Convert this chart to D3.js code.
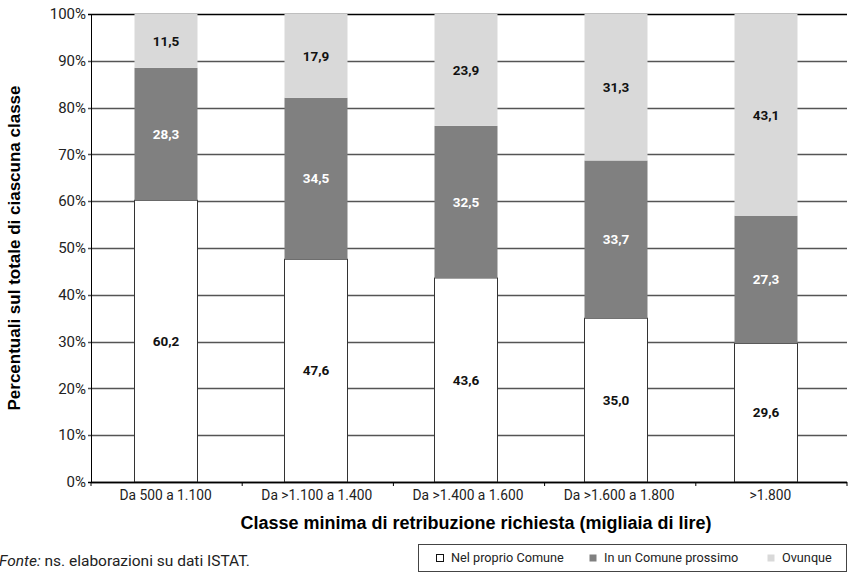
<!DOCTYPE html>
<html>
<head>
<meta charset="utf-8">
<script src="https://cdn.jsdelivr.net/npm/d3@7"></script>
<style>
  body { margin: 0; background: #fff; }
  svg { display: block; }
</style>
</head>
<body>
<svg id="chart"></svg>
<script>
/*=================
=== The data
=================*/
var categories = ['Da 500 a 1.100', 'Da >1.100 a 1.400', 'Da >1.400 a 1.600', 'Da >1.600 a 1.800', '>1.800'];
var seriesNames = ['Nel proprio Comune', 'In un Comune prossimo', 'Ovunque'];
var nelComune = [60.2, 47.6, 43.6, 35.0, 29.6];
var comunePross = [28.3, 34.5, 32.5, 33.7, 27.3];
var ovunque = [11.5, 17.9, 23.9, 31.3, 43.1];
var yTicks = [0, 10, 20, 30, 40, 50, 60, 70, 80, 90, 100];

var colors = ['#ffffff', '#808080', '#d9d9d9'];
var labelColors = ['#111', '#fff', '#111'];

var width = 848, height = 576;
var margin = { top: 14, right: 1, bottom: 94, left: 91 };

var svg = d3.select('#chart')
	.attr('width', width)
	.attr('height', height);

var tickFont = 'Roboto, "Liberation Sans", Arial, sans-serif';
var titleFont = '"Liberation Sans", Arial, sans-serif';

// build table for the stack
var table = categories.map(function (c, i) {
	return { cat: c, s0: nelComune[i], s1: comunePross[i], s2: ovunque[i] };
});
var stack = d3.stack().keys(['s0', 's1', 's2']);
var layers = stack(table);

// bars sit on a 150px step, the axis categories on the full width
var x = d3.scaleBand()
	.domain(categories)
	.range([margin.left, 841])
	.paddingInner(0.58)
	.paddingOuter(0.29);

var xAxisBand = d3.scaleBand()
	.domain(categories)
	.range([margin.left, width - margin.right]);

var y = d3.scaleLinear()
	.domain([0, 100])
	.range([height - margin.bottom, margin.top]);

// gridlines
svg.append('g')
	.selectAll('line')
	.data(yTicks)
	.enter().append('line')
	.attr('x1', margin.left - 3)
	.attr('x2', width - margin.right)
	.attr('y1', function (d) { return Math.round(y(d)) + 0.5; })
	.attr('y2', function (d) { return Math.round(y(d)) + 0.5; })
	.attr('stroke', function (d) { return d === 100 || d === 0 ? '#000' : '#555'; })
	.attr('stroke-width', 1.3);

// y labels
svg.append('g')
	.selectAll('text')
	.data(yTicks)
	.enter().append('text')
	.attr('x', margin.left - 5)
	.attr('y', function (d) { return y(d); })
	.attr('dy', '0.35em')
	.attr('text-anchor', 'end')
	.style('font-family', tickFont)
	.style('font-size', '15px')
	.attr('fill', '#222')
	.text(function (d) { return d + '%'; });

// left axis line
svg.append('line')
	.attr('x1', margin.left + 0.5).attr('x2', margin.left + 0.5)
	.attr('y1', margin.top).attr('y2', height - margin.bottom)
	.attr('stroke', '#000');

// bars
var layerG = svg.append('g')
	.selectAll('g')
	.data(layers)
	.enter().append('g')
	.attr('fill', function (d, i) { return colors[i]; });

layerG.selectAll('rect')
	.data(function (d) { return d; })
	.enter().append('rect')
	.attr('x', function (d) { return x(d.data.cat); })
	.attr('width', x.bandwidth())
	.attr('y', function (d) { return y(d[1]); })
	.attr('height', function (d) { return y(d[0]) - y(d[1]); })
	.attr('stroke', function (d) { return this.parentNode.__data__.index === 0 ? '#333' : 'none'; })
	.attr('stroke-width', 1);

// bottom axis line
svg.append('line')
	.attr('x1', margin.left).attr('x2', width - margin.right)
	.attr('y1', y(0) + 0.5).attr('y2', y(0) + 0.5)
	.attr('stroke', '#000')
	.attr('stroke-width', 1.3);

// x ticks between categories
var xTickPos = categories.map(function (c) { return xAxisBand(c); })
	.concat([width - margin.right]);
svg.append('g')
	.selectAll('line')
	.data(xTickPos)
	.enter().append('line')
	.attr('x1', function (d) { return d; })
	.attr('x2', function (d) { return d; })
	.attr('y1', y(0))
	.attr('y2', y(0) + 4)
	.attr('stroke', '#000');

// x labels
svg.append('g')
	.selectAll('text')
	.data(categories)
	.enter().append('text')
	.attr('x', function (d) { return xAxisBand(d) + xAxisBand.bandwidth() / 2 - 1; })
	.attr('y', y(0) + 18)
	.attr('text-anchor', 'middle')
	.style('font-family', tickFont)
	.style('font-size', '13.8px')
	.attr('fill', '#222')
	.text(function (d) { return d; });

// value labels
layers.forEach(function (layer, li) {
	svg.append('g')
		.selectAll('text')
		.data(layer)
		.enter().append('text')
		.attr('x', function (d) { return x(d.data.cat) + x.bandwidth() / 2; })
		.attr('y', function (d) { return (y(d[0]) + y(d[1])) / 2; })
		.attr('dy', '0.35em')
		.attr('text-anchor', 'middle')
		.style('font-family', tickFont)
		.style('font-size', '13.5px')
		.style('font-weight', 'bold')
		.attr('fill', labelColors[li])
		.text(function (d) { return d3.format('.1f')(d[1] - d[0]).replace('.', ','); });
});

// axis titles
svg.append('text')
	.attr('transform', 'translate(20,' + (y(50)) + ') rotate(-90)')
	.attr('text-anchor', 'middle')
	.style('font-family', titleFont)
	.style('font-size', '17px')
	.style('font-weight', 'bold')
	.text('Percentuali sul totale di ciascuna classe');

svg.append('text')
	.attr('x', 476)
	.attr('y', 529)
	.attr('text-anchor', 'middle')
	.style('font-family', titleFont)
	.style('font-size', '18px')
	.style('font-weight', 'bold')
	.text('Classe minima di retribuzione richiesta (migliaia di lire)');

// source
var src = svg.append('text')
	.attr('x', -1)
	.attr('y', 566)
	.style('font-family', tickFont)
	.style('font-size', '15.5px')
	.attr('fill', '#222');
src.append('tspan').style('font-style', 'italic').text('Fonte:');
src.append('tspan').text(' ns. elaborazioni su dati ISTAT.');

// legend
var legend = svg.append('g');
legend.append('rect')
	.attr('x', 418.5).attr('y', 544.5)
	.attr('width', 428).attr('height', 27)
	.attr('fill', '#fff')
	.attr('stroke', '#444');

var legX = [436, 589, 767];
seriesNames.forEach(function (name, i) {
	legend.append('rect')
		.attr('x', legX[i] + 0.5).attr('y', 554.5)
		.attr('width', 7).attr('height', 7)
		.attr('fill', colors[i])
		.attr('stroke', i === 0 ? '#111' : 'none');
	legend.append('text')
		.attr('x', legX[i] + 15)
		.attr('y', 558)
		.attr('dy', '0.35em')
		.style('font-family', tickFont)
		.style('font-size', '12.7px')
		.attr('fill', '#222')
		.text(name);
});
</script>
</body>
</html>
